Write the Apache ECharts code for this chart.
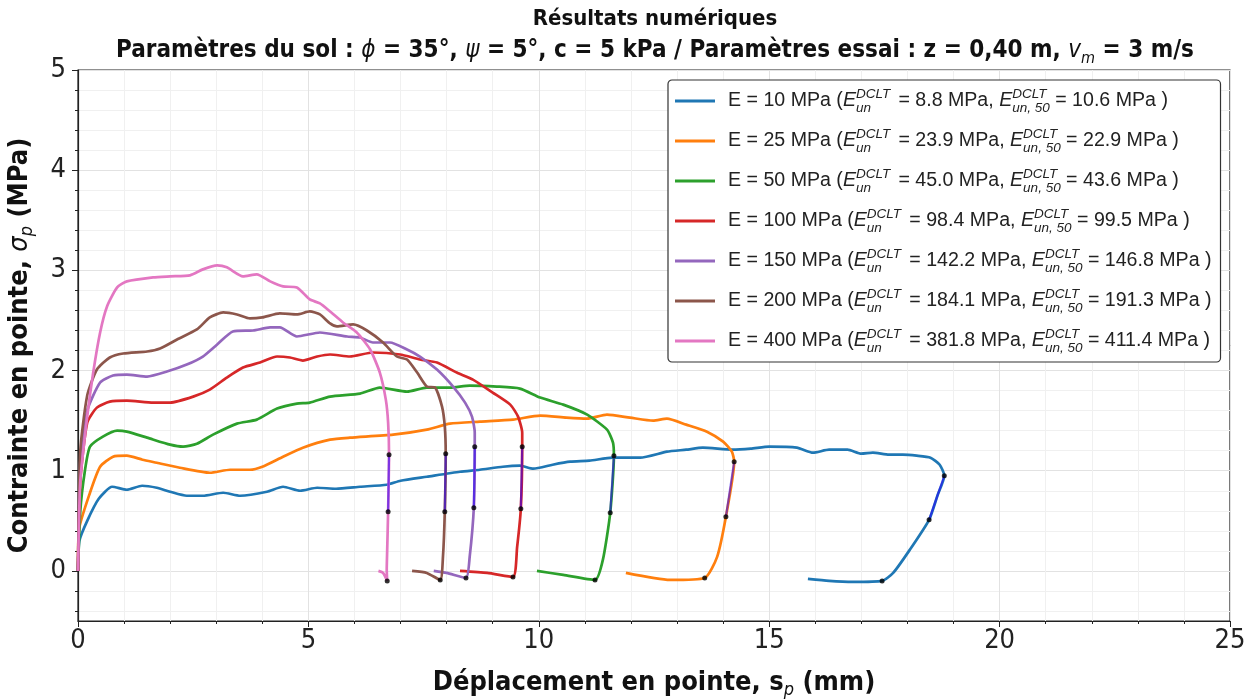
<!DOCTYPE html>
<html>
<head>
<meta charset="utf-8">
<script src="https://cdn.jsdelivr.net/npm/echarts@6/dist/echarts.min.js"></script>
<style>html,body{margin:0;padding:0;background:#fff}#c{width:1253px;height:700px}</style>
</head>
<body>
<div id="c"></div>
<script>
// ---------- DATA ----------
const legendNames = ['E = 10 MPa','E = 25 MPa','E = 50 MPa','E = 100 MPa','E = 150 MPa','E = 200 MPa','E = 400 MPa'];
const eUn   = ['8.8','23.9','45.0','98.4','142.2','184.1','381.8'];
const eUn50 = ['10.6','22.9','43.6','99.5','146.8','191.3','411.4'];
const colors = ['#1f77b4','#ff7f0e','#2ca02c','#d62728','#9467bd','#8c564b','#e377c2'];

const xTicks = [0,5,10,15,20,25];
const yTicks = [0,1,2,3,4,5];
const yMinorTicks = [-0.4,-0.2,0,0.2,0.4,0.6,0.8,1,1.2,1.4,1.6,1.8,2,2.2,2.4,2.6,2.8,3,3.2,3.4,3.6,3.8,4,4.2,4.4,4.6,4.8,5];

const curveE10 = [[0,0],[0.03,0.3],[0.2,0.5],[0.45,0.72],[0.74,0.84],[1.06,0.81],[1.39,0.85],[1.71,0.83],[2.0,0.79],[2.36,0.75],[2.71,0.75],[3.15,0.78],[3.52,0.75],[4.1,0.79],[4.45,0.84],[4.82,0.80],[5.19,0.83],[5.6,0.82],[6.12,0.84],[6.7,0.86],[7.0,0.90],[7.57,0.94],[8.29,0.99],[8.72,1.01],[9.22,1.04],[9.59,1.05],[9.88,1.02],[10.3,1.06],[10.68,1.09],[11.1,1.10],[11.6,1.13],[12.2,1.13],[12.78,1.19],[13.2,1.21],[13.56,1.23],[14.2,1.21],[14.6,1.22],[15.0,1.24],[15.6,1.23],[15.95,1.18],[16.3,1.21],[16.7,1.21],[17.0,1.17],[17.25,1.18],[17.6,1.16],[17.9,1.16],[18.2,1.15],[18.5,1.13],[18.7,1.06],[18.8,0.95],[18.65,0.75],[18.47,0.51],[18.05,0.21],[17.69,-0.02],[17.45,-0.10],[16.82,-0.11],[16.3,-0.10],[15.84,-0.08]];
const curveE25 = [[0,0],[0.02,0.41],[0.26,0.78],[0.48,1.04],[0.76,1.14],[1.06,1.15],[1.4,1.11],[1.71,1.08],[2.21,1.03],[2.86,0.98],[3.3,1.01],[3.73,1.01],[4.0,1.04],[4.45,1.14],[4.88,1.23],[5.47,1.31],[5.9,1.33],[6.84,1.36],[7.57,1.41],[8.07,1.47],[8.72,1.49],[9.44,1.51],[10.03,1.55],[10.6,1.53],[11.05,1.52],[11.48,1.56],[11.98,1.53],[12.48,1.50],[12.78,1.52],[13.2,1.46],[13.65,1.39],[14.0,1.29],[14.19,1.19],[14.24,1.09],[14.06,0.54],[13.87,0.14],[13.6,-0.07],[12.85,-0.09],[11.89,-0.02]];
const curveE50 = [[0,0],[0.05,0.6],[0.15,1.0],[0.26,1.24],[0.54,1.34],[0.85,1.40],[1.06,1.39],[1.5,1.33],[2.0,1.26],[2.28,1.24],[2.58,1.27],[2.93,1.36],[3.45,1.47],[3.88,1.51],[4.32,1.62],[4.75,1.67],[5.03,1.68],[5.47,1.74],[6.12,1.77],[6.55,1.83],[7.14,1.79],[7.57,1.83],[8.07,1.83],[8.5,1.85],[9.09,1.84],[9.59,1.82],[10.03,1.73],[10.53,1.66],[11.05,1.56],[11.48,1.41],[11.61,1.28],[11.63,1.15],[11.55,0.58],[11.39,0.11],[11.22,-0.09],[10.53,-0.04],[9.96,0.0]];
const curveE100 = [[0,0],[0.05,0.9],[0.2,1.48],[0.41,1.63],[0.69,1.69],[1.06,1.70],[1.63,1.68],[2.0,1.68],[2.5,1.74],[2.86,1.81],[3.23,1.93],[3.58,2.03],[3.95,2.08],[4.32,2.14],[4.6,2.13],[4.88,2.10],[5.19,2.14],[5.47,2.16],[5.9,2.14],[6.4,2.18],[6.99,2.16],[7.42,2.11],[7.79,2.08],[8.22,1.98],[8.57,1.91],[9.0,1.78],[9.38,1.66],[9.55,1.54],[9.64,1.38],[9.64,1.24],[9.61,0.62],[9.53,0.24],[9.44,-0.06],[8.88,-0.02],[8.29,0.0]];
const curveE150 = [[0,0],[0.05,1.1],[0.2,1.6],[0.48,1.88],[0.76,1.95],[1.06,1.96],[1.5,1.94],[1.93,1.99],[2.36,2.06],[2.71,2.14],[3.02,2.26],[3.36,2.39],[3.8,2.40],[4.17,2.43],[4.38,2.43],[4.75,2.34],[5.25,2.38],[5.84,2.34],[6.12,2.33],[6.4,2.28],[6.77,2.28],[7.14,2.21],[7.42,2.14],[7.79,2.01],[8.14,1.84],[8.4,1.68],[8.55,1.54],[8.61,1.38],[8.61,1.24],[8.59,0.63],[8.5,0.14],[8.42,-0.07],[8.0,-0.02],[7.72,0.0]];
const curveE200 = [[0,0],[0.05,1.2],[0.2,1.75],[0.41,2.01],[0.69,2.13],[0.98,2.17],[1.5,2.19],[1.78,2.22],[2.15,2.31],[2.58,2.41],[2.86,2.53],[3.15,2.58],[3.45,2.56],[3.73,2.52],[4.0,2.53],[4.38,2.57],[4.75,2.56],[5.03,2.59],[5.25,2.56],[5.47,2.47],[5.62,2.44],[5.97,2.46],[6.27,2.40],[6.62,2.28],[6.92,2.14],[7.14,2.11],[7.36,1.98],[7.57,1.84],[7.75,1.83],[7.9,1.64],[7.96,1.44],[7.98,1.17],[7.96,0.59],[7.92,0.14],[7.86,-0.09],[7.57,-0.02],[7.25,0.0]];
const curveE400 = [[0,0],[0.05,0.9],[0.2,1.54],[0.33,1.98],[0.48,2.38],[0.63,2.64],[0.85,2.83],[1.06,2.89],[1.63,2.93],[2.0,2.94],[2.43,2.95],[2.71,3.01],[3.02,3.05],[3.23,3.03],[3.58,2.94],[3.88,2.96],[4.17,2.89],[4.45,2.84],[4.75,2.83],[5.03,2.71],[5.25,2.67],[5.47,2.59],[5.75,2.48],[6.05,2.38],[6.34,2.21],[6.55,1.98],[6.68,1.71],[6.73,1.48],[6.75,1.16],[6.73,0.59],[6.71,0.21],[6.7,0.01],[6.71,-0.10],[6.62,-0.02],[6.52,0.0]];

// unloading fit points: top (start), middle (50 %), bottom (min)
const topDots = [[18.8,0.95],[14.24,1.09],[11.63,1.15],[9.64,1.24],[8.61,1.24],[7.98,1.17],[6.75,1.16]];
const midDots = [[18.47,0.51],[14.06,0.54],[11.55,0.58],[9.61,0.62],[8.59,0.63],[7.96,0.59],[6.73,0.59]];
const botDots = [[17.45,-0.10],[13.6,-0.07],[11.22,-0.09],[9.44,-0.06],[8.42,-0.07],[7.86,-0.09],[6.71,-0.10]];

const curves = [curveE10,curveE25,curveE50,curveE100,curveE150,curveE200,curveE400];

// ---------- CHART ----------
const FF = 'Liberation Sans, Arial, sans-serif';
const FN = '"Liberation Sans Narrow", "Arial Narrow", "DejaVu Sans Condensed", sans-serif';
const chart = echarts.init(document.getElementById('c'), null, {renderer:'canvas'});

const series = [];
curves.forEach((d,i)=>{
  series.push({type:'line', name: legendNames[i], data:d, showSymbol:false, symbol:'none', smooth:0.2,
    color: colors[i], lineStyle:{width:2.7, color: colors[i]}, z:2});
});
topDots.forEach((t,i)=>{
  series.push({type:'line', name:'fit'+i, data:[t, midDots[i]], symbol:'none',
    lineStyle:{width:2.2, color:'rgba(40,0,255,0.55)'}, z:3});
});
series.push({type:'scatter', name:'dots', data: topDots.concat(midDots, botDots),
  symbolSize:5, itemStyle:{color:'#000'}, z:4});

const option = {
  animation:false,
  backgroundColor:'#fff',
  textStyle:{fontFamily:FF},
  title:{
    text:'{t|Résultats numériques}\nParamètres du sol : {i|ϕ} = 35°, {i|ψ} = 5°, c = 5 kPa / Paramètres essai : z = 0,40 m, {i|v}{s|m} = 3 m/s',
    left:655, textAlign:'center', top:3, padding:0,
    textStyle:{fontFamily:FN, fontSize:24, fontWeight:'bold', color:'#111', lineHeight:32, align:'center',
      rich:{
        t:{fontFamily:FN, fontSize:22, fontWeight:'bold', color:'#111', lineHeight:32},
        i:{fontFamily:FN, fontSize:24, fontStyle:'italic', fontWeight:'normal', color:'#111'},
        s:{fontFamily:FN, fontSize:16, fontStyle:'italic', fontWeight:'normal', color:'#111', verticalAlign:'bottom', lineHeight:32}
      }}
  },
  grid:{left:78, right:23, top:70, bottom:79, show:true, borderColor:'#222', borderWidth:1.2, containLabel:false, outerBoundsMode:'none'},
  legend:{
    data: legendNames, orient:'vertical', left:668, top:80,
    padding:[7,9,7,7], itemWidth:40, itemHeight:3, itemGap:12, icon:'rect',
    backgroundColor:'#fff', borderColor:'#333', borderWidth:1.2, borderRadius:4,
    formatter: function(name){
      const i = legendNames.indexOf(name);
      return name + ' ({e|E}{sp|DCLT}{sb|un} = ' + eUn[i] + ' MPa, {e|E}{sp|DCLT}{sb2|un, 50} = ' + eUn50[i] + ' MPa )';
    },
    textStyle:{fontFamily:FF, fontSize:19.6, color:'#222', lineHeight:28, padding:[0,0,0,8],
      rich:{
        e:{fontFamily:FF, fontSize:19.6, fontStyle:'italic', color:'#222'},
        sp:{fontFamily:FF, fontSize:13.5, fontStyle:'italic', width:0, verticalAlign:'top', color:'#222'},
        sb:{fontFamily:FF, fontSize:13.5, fontStyle:'italic', width:37, verticalAlign:'bottom', color:'#222'},
        sb2:{fontFamily:FF, fontSize:13.5, fontStyle:'italic', verticalAlign:'bottom', color:'#222'}
      }}
  },
  xAxis:{
    type:'value', min:0, max:25, interval:5,
    name:'Déplacement en pointe, s{s|p} (mm)', nameLocation:'middle', nameGap:45,
    nameTextStyle:{fontFamily:FN, fontSize:27, fontWeight:'bold', color:'#111',
      rich:{s:{fontFamily:FN, fontSize:18, fontStyle:'italic', fontWeight:'normal', color:'#111', verticalAlign:'bottom', lineHeight:33}}},
    axisLine:{show:true, onZero:false, lineStyle:{color:'#222', width:1.2}},
    axisTick:{show:true, length:6, lineStyle:{color:'#222'}},
    minorTick:{show:true, splitNumber:5, length:3, lineStyle:{color:'#222'}},
    axisLabel:{fontFamily:FN, fontSize:27, color:'#222', margin:6},
    splitLine:{show:true, lineStyle:{color:'#e2e2e2', width:1}},
    minorSplitLine:{show:true, lineStyle:{color:'#f0f0f0', width:1}}
  },
  yAxis:[
    {
      type:'value', min:-0.5, max:5,
      axisLine:{show:true, onZero:false, lineStyle:{color:'#222', width:1.2}},
      axisTick:{show:true, customValues: yMinorTicks, length:3, lineStyle:{color:'#222'}},
      axisLabel:{show:false},
      splitLine:{show:true, lineStyle:{color:'#f0f0f0', width:1}}
    },
    {
      type:'value', min:-0.5, max:5, position:'left',
      name:'Contrainte en pointe, {i|σ}{s|p} (MPa)', nameLocation:'middle', nameGap:42, nameRotate:90,
      nameTextStyle:{fontFamily:FN, fontSize:27, fontWeight:'bold', color:'#111',
        rich:{
          i:{fontFamily:FN, fontSize:27, fontStyle:'italic', fontWeight:'normal', color:'#111'},
          s:{fontFamily:FN, fontSize:18, fontStyle:'italic', fontWeight:'normal', color:'#111', verticalAlign:'bottom', lineHeight:33}
        }},
      axisLine:{show:false},
      axisTick:{show:true, customValues: yTicks, length:6, lineStyle:{color:'#222'}},
      axisLabel:{customValues: yTicks, fontFamily:FN, fontSize:27, color:'#222', margin:12},
      splitLine:{show:true, lineStyle:{color:'#e2e2e2', width:1}}
    }
  ],
  series: series
};
chart.setOption(option);
</script>
</body>
</html>
